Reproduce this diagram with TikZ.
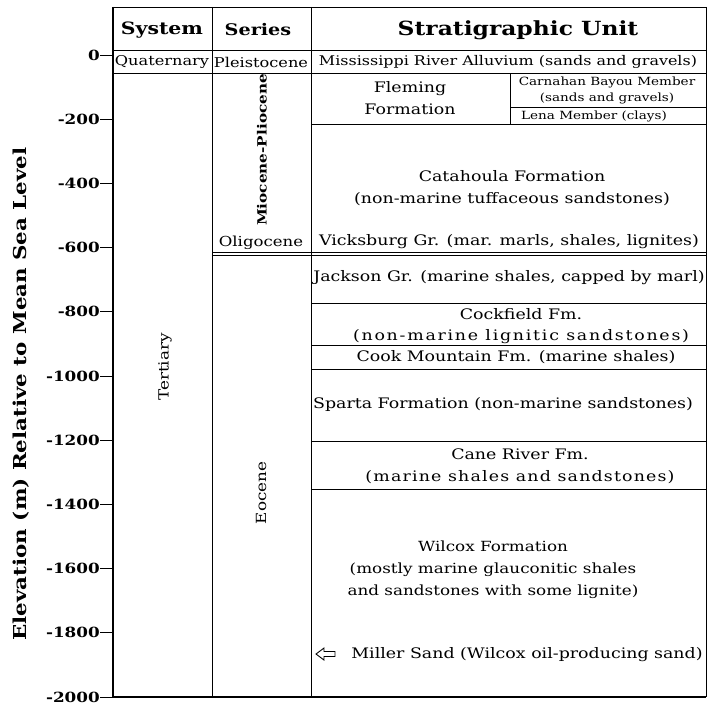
\documentclass[tikz,border=0pt]{standalone}
\usepackage{fontspec}
\setmainfont{DejaVu Serif}[FakeStretch=1.2]
\begin{document}
\begin{tikzpicture}[x=1pt,y=-1pt,
  gridline/.style={line width=0.9pt},
  frameline/.style={line width=1.8pt},
  hdr/.style={font=\fontsize{17}{20}\selectfont\bfseries, inner sep=0pt},
  txt/.style={font=\fontsize{14.5}{21.5}\selectfont, align=center, inner sep=0pt},
  rowtxt/.style={font=\fontsize{13.5}{16}\selectfont, align=center, inner sep=0pt},
  smalltxt/.style={font=\fontsize{11.3}{16}\selectfont, align=center, inner sep=0pt},
  axlab/.style={font=\fontsize{14}{16}\selectfont\bfseries, anchor=east, inner sep=0pt},
  vtxt/.style={font=\fontsize{14}{16}\selectfont, rotate=90, inner sep=0pt},
  arrowshape/.style={line width=0.9pt, line join=miter}
]
\useasboundingbox (0,0) rectangle (708,709);

% frame and grid
\draw[gridline] (113,7) -- (706,7);
\draw[gridline] (113,50) -- (706,50);
\draw[gridline] (113,73) -- (706,73);
\draw[gridline] (212,7) -- (212,697);
\draw[gridline] (311,7) -- (311,697);
\draw[gridline] (706,7) -- (706,697);
\draw[frameline] (113,7) -- (113,697);
\draw[frameline] (112,697) -- (706,697);
\draw[gridline] (510,73) -- (510,124);
\draw[gridline] (510,107) -- (706,107);
\draw[gridline] (311,124) -- (706,124);
\draw[gridline] (212,252) -- (706,252);
\draw[gridline] (212,255) -- (706,255);
\foreach \yy in {303,345,369,441,489} \draw[gridline] (311,\yy) -- (706,\yy);

% axis ticks and labels
\foreach \v [count=\i from 0] in {0,-200,-400,-600,-800,-1000,-1200,-1400,-1600,-1800,-2000} {
  \node[axlab] (t\i) at (100,{55+64.2*\i}) {\v};
  \coordinate (a\i) at (113,{55+64.2*\i});
  \draw[gridline] (t\i.east) -- (a\i);
}
\node[font=\fontsize{17.8}{20}\selectfont\bfseries, rotate=90, inner sep=0pt] (ytitle) at (21,394) {Elevation (m) Relative to Mean Sea Level};

% headers
\node[hdr] (hsys) at (162,30) {System};
\node[hdr, font=\fontsize{16}{20}\selectfont\bfseries] (hser) at (258,30) {Series};
\node[hdr, font=\fontsize{19.5}{22}\selectfont\bfseries] (hunit) at (518,30) {Stratigraphic Unit};

% first row
\node[rowtxt] (quat) at (162,62) {Quaternary};
\node[rowtxt] (pleis) at (261,62) {Pleistocene};
\node[rowtxt, font=\fontsize{13.3}{16}\selectfont] (miss) at (508,62) {Mississippi River Alluvium (sands and gravels)};

% series column
\node[vtxt, font=\fontsize{12.7}{14}\selectfont\bfseries] (mioc) at (262,150) {Miocene-Pliocene};
\node[rowtxt, font=\fontsize{13.8}{16}\selectfont] (olig) at (261,243) {Oligocene};
\node[vtxt] (eoc) at (261,493) {Eocene};
\node[vtxt] (tert) at (165,367) {Tertiary};

% units
\node[txt] (flem) at (410,98) {Fleming\\Formation};
\node[smalltxt] (carn) at (607,90) {Carnahan Bayou Member\\(sands and gravels)};
\node[smalltxt] (lena) at (594,116) {Lena Member (clays)};
\node[txt] (cata) at (512,188) {Catahoula Formation\\(non-marine tuffaceous sandstones)};
\node[txt] (vick) at (509,242) {Vicksburg Gr. (mar. marls, shales, lignites)};
\node[txt] (jack) at (509,278) {Jackson Gr. (marine shales, capped by marl)};
\node[txt] (cock) at (521,326) {Cockfield Fm.\\{\addfontfeature{LetterSpace=12}(non-marine lignitic sandstones)}};
\node[txt] (cook) at (516,357) {Cook Mountain Fm. (marine shales)};
\node[txt] (spar) at (503,404) {Sparta Formation (non-marine sandstones)};
\node[txt] (cane) at (520,466) {Cane River Fm.\\{\addfontfeature{LetterSpace=8}(marine shales and sandstones)}};
\node[txt, font=\fontsize{14}{22}\selectfont] (wilc) at (493,570) {Wilcox Formation\\(mostly marine glauconitic shales\\and sandstones with some lignite)};
\node[txt] (mill) at (527,655) {Miller Sand (Wilcox oil-producing sand)};

% hollow arrow pointing left
\draw[arrowshape] (316,654) -- (324,648) -- (324,651.5) -- (335,651.5) -- (335,656.5) -- (324,656.5) -- (324,660) -- cycle;
\end{tikzpicture}
\end{document}
